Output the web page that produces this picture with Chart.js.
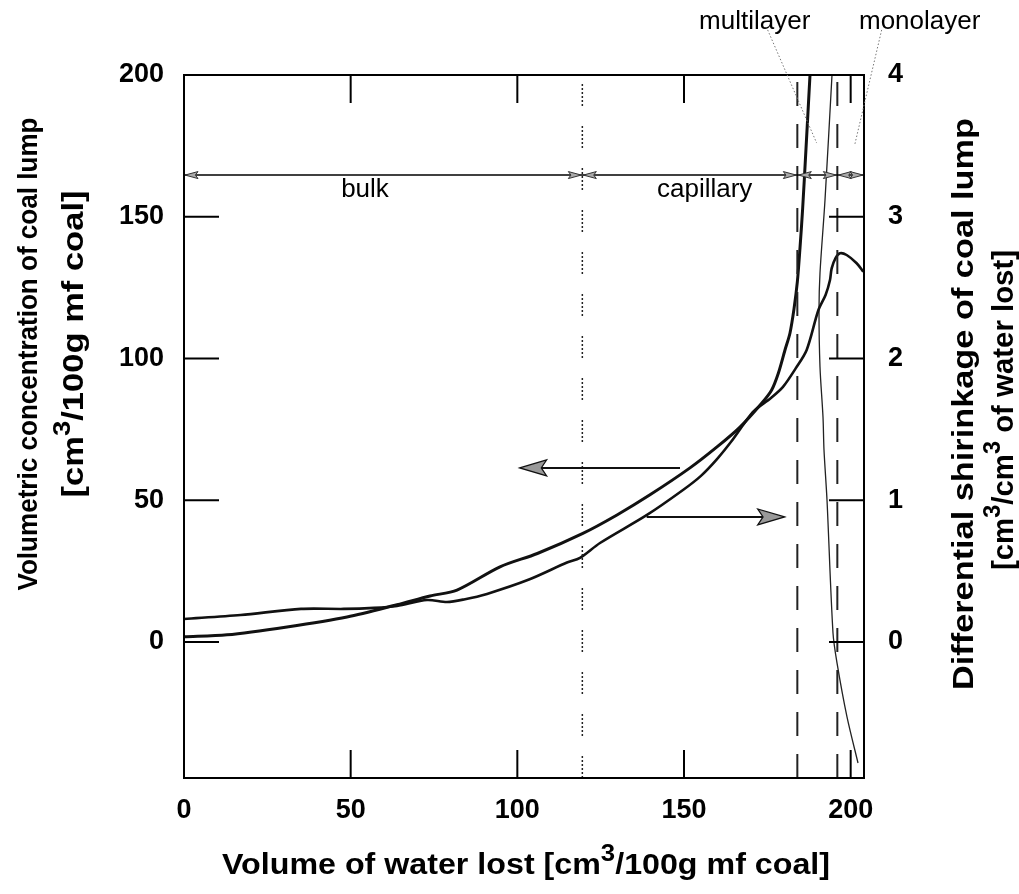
<!DOCTYPE html>
<html lang="en">
<head>
<meta charset="UTF-8">
<title>Volumetric concentration and differential shrinkage of coal lump</title>
<script src="https://cdn.jsdelivr.net/npm/chart.js"></script>
<style>
  html, body { margin: 0; padding: 0; background: #fff; }
  #wrap { width: 1019px; height: 894px; }
</style>
</head>
<body>
<div id="wrap"><canvas id="coalChart"></canvas></div>
<script>
// volumetric concentration of coal lump (left axis) vs volume of water lost
const concX = [0, 12.9, 30.9, 48.9, 63.9, 73.8, 81.9, 94.8, 106, 119.5, 129.9, 139.8, 151.8, 159.9, 166.8, 173.3, 176.3, 178.3, 180.3, 181.8, 183.0, 184.0, 184.8, 185.6, 186.6, 187.8];
const concY = [1.8, 2.5, 5.3, 8.8, 13.1, 16.2, 18.3, 26.5, 31.2, 38.2, 44.8, 51.9, 61.4, 68.8, 75.8, 84.2, 88.9, 94.8, 103, 109, 117.5, 127, 139, 153, 174, 200];

// differential shrinkage (right axis)
const shrinkX = [0, 17, 35.1, 47.9, 57, 63.9, 72.9, 78.9, 84, 90.9, 103.5, 114.9, 118.8, 124.8, 138.9, 149.7, 155, 159.9, 164.7, 168, 171, 176, 179.7, 183.5, 186.8, 190.3, 192.5, 193.8, 194.3, 195.5, 196.8, 198.8, 201.8, 203.8];
const shrinkY = [0.162, 0.19, 0.233, 0.233, 0.24, 0.254, 0.296, 0.282, 0.3, 0.339, 0.44, 0.56, 0.593, 0.698, 0.896, 1.072, 1.17, 1.29, 1.43, 1.54, 1.63, 1.72, 1.8, 1.93, 2.06, 2.34, 2.45, 2.554, 2.636, 2.71, 2.742, 2.73, 2.672, 2.612];

// thin steep branch (right axis)
const steepX = [194.4, 192.3, 190.8, 190.5, 190.8, 191.7, 192.0, 192.9, 194.7, 195.9, 198.9, 202.2];
const steepY = [4.0, 3.118, 2.603, 2.342, 1.94, 1.587, 1.354, 1.002, 0.063, -0.148, -0.529, -0.854];

const xTicks = [0, 50, 100, 150, 200];
const leftTicks = [0, 50, 100, 150, 200];
const rightTicks = [0, 1, 2, 3, 4];

// water regions along the top
const regionBounds = [0, 119.5, 184, 196, 204];
const dividers = [119.5, 184, 196];
const regionNames = ['bulk', 'capillary', 'multilayer', 'monolayer'];
const regionArrowY = 164.7;
const regionLabelX = [54.3, 156.2, 171.2, 220.7];
const regionLabelY = [159.4, 159.4, 218.7, 218.7];
const leaderFrom = [[175.1, 215.9], [209.3, 215.9]];
const leaderTo = [[189.8, 176], [201.2, 175.3]];

// pointer arrows: which axis each curve belongs to (left axis units)
const pointerTail = [[148.8, 61.4], [138.8, 44.1]];
const pointerTip = [[100.7, 61.4], [180.2, 44.1]];

const FONT = '"Liberation Sans", Arial, Helvetica, sans-serif';

function pts(xs, ys) {
    return xs.map((x, i) => ({ x: x, y: ys[i] }));
}

const dividerSets = dividers.map((b, i) => ({
    data: [{ x: b, y: -48 }, { x: b, y: 200 }],
    yAxisID: 'y',
    borderColor: '#222',
    borderWidth: i === 0 ? 1.5 : 2,
    borderDash: i === 0 ? [2, 2, 2, 2, 2, 2, 2, 2, 2, 2, 2, 20] : [24, 18],
    pointRadius: 0,
    tension: 0
}));

function line(ctx, x1, y1, x2, y2) {
    ctx.beginPath();
    ctx.moveTo(x1, y1);
    ctx.lineTo(x2, y2);
    ctx.stroke();
}

function arrowHead(ctx, tipX, tipY, dir, len, half, fill) {
    ctx.beginPath();
    ctx.moveTo(tipX, tipY);
    ctx.lineTo(tipX - dir * len, tipY - half);
    ctx.lineTo(tipX - dir * len * 0.8, tipY);
    ctx.lineTo(tipX - dir * len, tipY + half);
    ctx.closePath();
    ctx.fillStyle = fill;
    ctx.fill();
    ctx.stroke();
}

// text made of parts, some superscript, optionally stretched to a length
function drawRich(ctx, parts, size, weight, cx, cy, rot, targetLen) {
    ctx.save();
    ctx.translate(cx, cy);
    ctx.rotate(rot);
    let w = 0;
    const widths = parts.map(p => {
        ctx.font = weight + ' ' + (p.sup ? size * 0.8 : size) + 'px ' + FONT;
        const m = ctx.measureText(p.t).width;
        w += m;
        return m;
    });
    if (targetLen) ctx.scale(targetLen / w, 1);
    ctx.fillStyle = '#000';
    ctx.textAlign = 'left';
    ctx.textBaseline = 'middle';
    let x = -w / 2;
    parts.forEach((p, i) => {
        ctx.font = weight + ' ' + (p.sup ? size * 0.8 : size) + 'px ' + FONT;
        ctx.fillText(p.t, x, p.sup ? -size * 0.38 : 0);
        x += widths[i];
    });
    ctx.restore();
}

const decor = {
    id: 'decor',
    afterDatasetsDraw(chart) {
        const ctx = chart.ctx;
        const a = chart.chartArea;
        const xs = chart.scales.x, ys = chart.scales.y, ys2 = chart.scales.y2;
        ctx.save();
        ctx.strokeStyle = '#000';
        ctx.lineWidth = 2;
        ctx.strokeRect(a.left, a.top, a.right - a.left, a.bottom - a.top);

        // inward tick marks
        xTicks.forEach(v => {
            const px = xs.getPixelForValue(v);
            line(ctx, px, a.bottom, px, a.bottom - 28);
            line(ctx, px, a.top, px, a.top + 28);
        });
        leftTicks.forEach(v => {
            const py = ys.getPixelForValue(v);
            line(ctx, a.left, py, a.left + 35, py);
        });
        rightTicks.forEach(v => {
            const py = ys2.getPixelForValue(v);
            line(ctx, a.right, py, a.right - 35, py);
        });

        // region arrows
        const ry = ys.getPixelForValue(regionArrowY);
        ctx.lineWidth = 1.5;
        line(ctx, xs.getPixelForValue(regionBounds[0]), ry, xs.getPixelForValue(regionBounds[regionBounds.length - 1]), ry);
        ctx.lineWidth = 1;
        ctx.strokeStyle = '#333';
        for (let i = 0; i < regionBounds.length - 1; i++) {
            const l = xs.getPixelForValue(regionBounds[i]);
            const r = xs.getPixelForValue(regionBounds[i + 1]);
            arrowHead(ctx, l + 1, ry, -1, 13, 3.5, '#aaa');
            arrowHead(ctx, r - 1, ry, 1, 13, 3.5, '#aaa');
        }

        // pointer arrows
        ctx.strokeStyle = '#111';
        pointerTail.forEach((t, i) => {
            const x1 = xs.getPixelForValue(t[0]), y1 = ys.getPixelForValue(t[1]);
            const x2 = xs.getPixelForValue(pointerTip[i][0]);
            const dir = x2 > x1 ? 1 : -1;
            ctx.lineWidth = 2;
            line(ctx, x1, y1, x2 - dir * 20, y1);
            ctx.lineWidth = 1.2;
            arrowHead(ctx, x2, y1, dir, 27, 8, '#999');
        });

        // leader lines to the thin regions
        ctx.strokeStyle = '#777';
        ctx.lineWidth = 1;
        ctx.setLineDash([1.5, 2]);
        leaderFrom.forEach((f, i) => {
            line(ctx, xs.getPixelForValue(f[0]), ys.getPixelForValue(f[1]),
                xs.getPixelForValue(leaderTo[i][0]), ys.getPixelForValue(leaderTo[i][1]));
        });
        ctx.setLineDash([]);

        // region labels
        ctx.fillStyle = '#000';
        ctx.font = '26px ' + FONT;
        ctx.textAlign = 'center';
        ctx.textBaseline = 'middle';
        regionNames.forEach((n, i) => {
            ctx.fillText(n, xs.getPixelForValue(regionLabelX[i]), ys.getPixelForValue(regionLabelY[i]));
        });
        ctx.restore();
    },
    afterDraw(chart) {
        const ctx = chart.ctx;
        const up = -Math.PI / 2;
        drawRich(ctx, [{ t: 'Volumetric concentration of coal lump' }], 27, 'bold', 30, 354, up, 473);
        drawRich(ctx, [{ t: '[cm' }, { t: '3', sup: true }, { t: '/100g mf coal]' }], 30, 'bold', 75, 344, up, 307);
        drawRich(ctx, [{ t: 'Differential shirinkage of coal lump' }], 30, 'bold', 965, 404, up, 572);
        drawRich(ctx, [{ t: '[cm' }, { t: '3', sup: true }, { t: '/cm' }, { t: '3', sup: true }, { t: ' of water lost]' }], 29, 'bold', 1005, 410, up, 320);
        drawRich(ctx, [{ t: 'Volume of water lost [cm' }, { t: '3', sup: true }, { t: '/100g mf coal]' }], 30, 'bold', 526, 866, 0, 608);
    }
};

const tickFont = { family: FONT, size: 27, weight: 'bold' };

new Chart(document.getElementById('coalChart'), {
    type: 'line',
    data: {
        datasets: [
            ...dividerSets,
            {
                label: 'Volumetric concentration',
                data: pts(concX, concY),
                yAxisID: 'y',
                borderColor: '#111',
                borderWidth: 3,
                pointRadius: 0,
                tension: 0.3
            },
            {
                label: 'Differential shrinkage',
                data: pts(shrinkX, shrinkY),
                yAxisID: 'y2',
                borderColor: '#111',
                borderWidth: 2.6,
                pointRadius: 0,
                tension: 0.3
            },
            {
                label: 'Differential shrinkage (steep)',
                data: pts(steepX, steepY),
                yAxisID: 'y2',
                borderColor: '#222',
                borderWidth: 1.3,
                pointRadius: 0,
                tension: 0.3
            }
        ]
    },
    options: {
        responsive: true,
        maintainAspectRatio: false,
        animation: false,
        layout: { padding: { top: 75, left: 0, right: 0, bottom: 0 } },
        plugins: {
            legend: { display: false },
            tooltip: { enabled: false }
        },
        scales: {
            x: {
                type: 'linear',
                min: 0,
                max: 204,
                grid: { display: false },
                border: { display: false },
                ticks: { font: tickFont, color: '#000', padding: 8, maxRotation: 0, callback: v => String(v) },
                afterBuildTicks: s => { s.ticks = xTicks.map(v => ({ value: v })); },
                afterFit: s => { s.height = 116; }
            },
            y: {
                position: 'left',
                min: -48,
                max: 200,
                grid: { display: false },
                border: { display: false },
                ticks: { font: tickFont, color: '#000', padding: 12, callback: v => String(v) },
                afterBuildTicks: s => { s.ticks = leftTicks.map(v => ({ value: v })); },
                afterFit: s => { s.width = 184; }
            },
            y2: {
                position: 'right',
                min: -0.96,
                max: 4,
                grid: { display: false },
                border: { display: false },
                ticks: { font: tickFont, color: '#000', padding: 16, callback: v => String(v) },
                afterBuildTicks: s => { s.ticks = rightTicks.map(v => ({ value: v })); },
                afterFit: s => { s.width = 155; }
            }
        }
    },
    plugins: [decor]
});
</script>
</body>
</html>
